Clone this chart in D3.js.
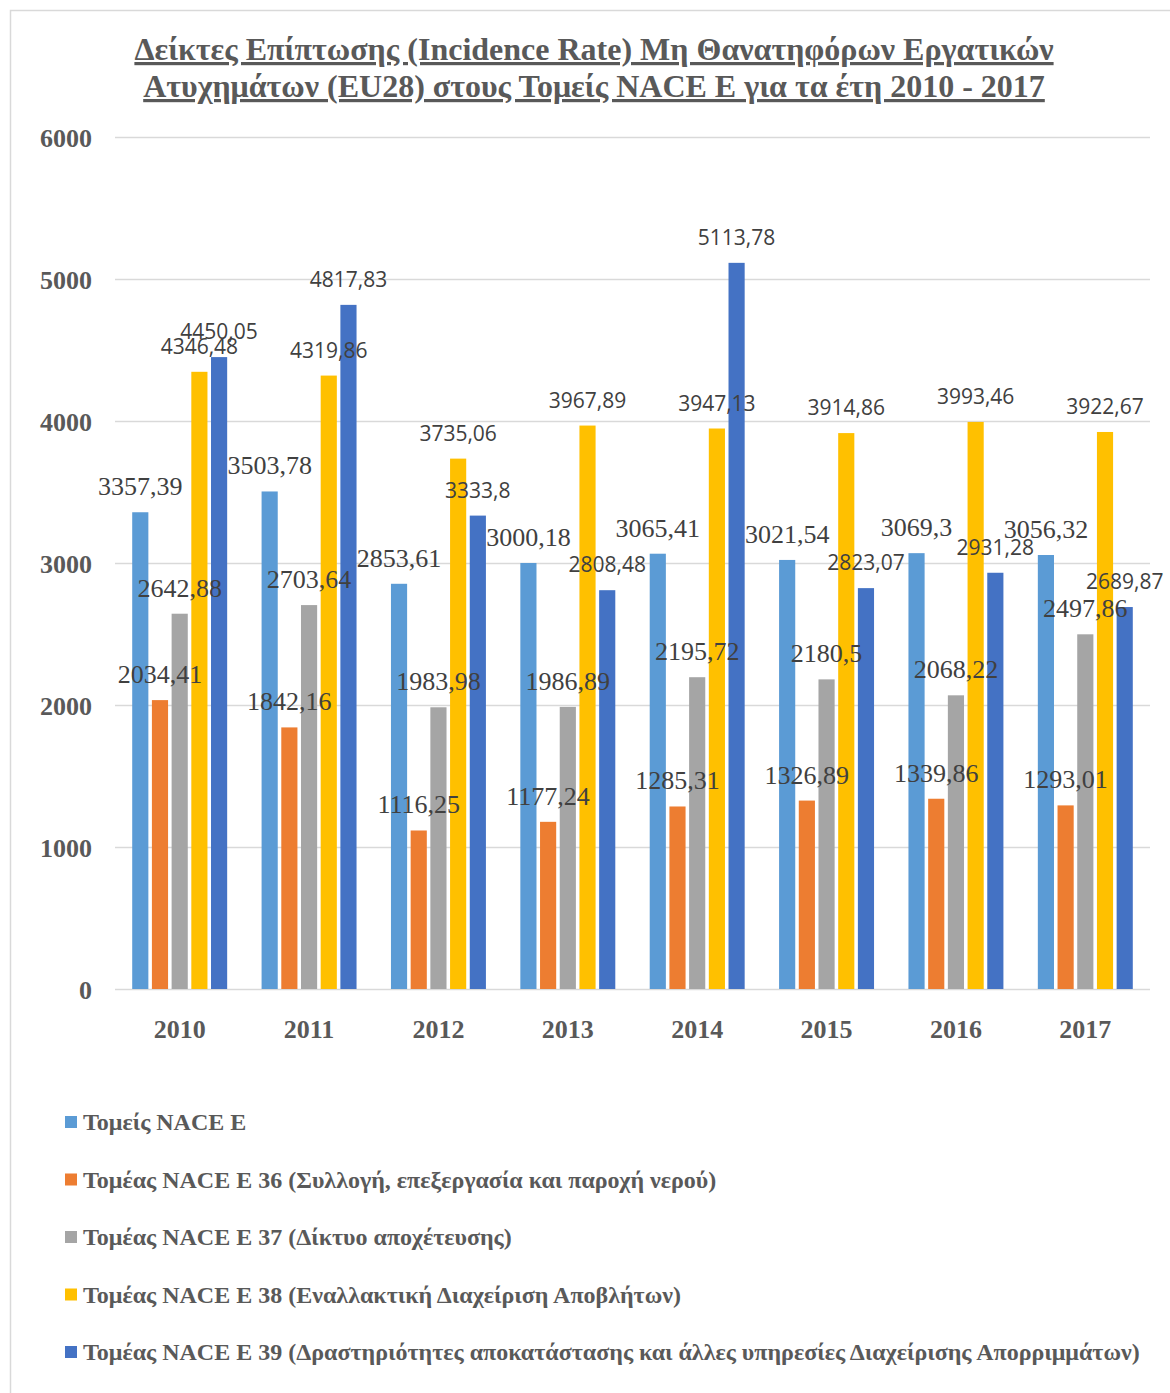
<!DOCTYPE html>
<html>
<head>
<meta charset="utf-8">
<script src="https://cdn.jsdelivr.net/npm/d3@7"></script>
<style>
  body { margin: 0; background: #fff; }
  svg { display: block; }
</style>
</head>
<body>
<svg id="chart"></svg>
<script>
const width = 1170
const height = 1393

const years = ['2010', '2011', '2012', '2013', '2014', '2015', '2016', '2017']
const seriesNames = [
  'Τομείς NACE E',
  'Τομέας NACE E 36 (Συλλογή, επεξεργασία και παροχή νερού)',
  'Τομέας NACE E 37 (Δίκτυο αποχέτευσης)',
  'Τομέας NACE E 38 (Εναλλακτική Διαχείριση Αποβλήτων)',
  'Τομέας NACE E 39 (Δραστηριότητες αποκατάστασης και άλλες υπηρεσίες Διαχείρισης Απορριμμάτων)'
]
const naceE = [3357.39, 3503.78, 2853.61, 3000.18, 3065.41, 3021.54, 3069.3, 3056.32]
const nace36 = [2034.41, 1842.16, 1116.25, 1177.24, 1285.31, 1326.89, 1339.86, 1293.01]
const nace37 = [2642.88, 2703.64, 1983.98, 1986.89, 2195.72, 2180.5, 2068.22, 2497.86]
const nace38 = [4346.48, 4319.86, 3735.06, 3967.89, 3947.13, 3914.86, 3993.46, 3922.67]
const nace39 = [4450.05, 4817.83, 3333.8, 2808.48, 5113.78, 2823.07, 2931.28, 2689.87]
const yTicks = [0, 1000, 2000, 3000, 4000, 5000, 6000]

const colors = ['#5B9BD5', '#ED7D31', '#A5A5A5', '#FFC000', '#4472C4']
const allSeries = [naceE, nace36, nace37, nace38, nace39]

const serif = '"Liberation Serif", "Times New Roman", serif'
const sans = '"Open Sans", "Liberation Sans", sans-serif'
const textGray = '#595959'

const svg = d3.select('#chart').attr('width', width).attr('height', height)

// chart frame
svg.append('rect')
  .attr('x', 10.5).attr('y', 10.5)
  .attr('width', width).attr('height', height)
  .attr('fill', '#fff')
  .attr('stroke', '#d9d9d9')
  .attr('stroke-width', 1.5)

// title
const title = svg.append('text')
  .attr('text-anchor', 'middle')
  .attr('font-family', serif)
  .attr('font-weight', 'bold')
  .attr('font-size', 32)
  .attr('fill', textGray)
  .attr('text-decoration', 'underline')
title.append('tspan').attr('x', 594).attr('y', 60)
  .text('Δείκτες Επίπτωσης (Incidence Rate) Μη Θανατηφόρων Εργατικών')
title.append('tspan').attr('x', 594).attr('y', 97)
  .text('Ατυχημάτων (EU28) στους Τομείς NACE E για τα έτη 2010 - 2017')

const plot = { left: 115, right: 1150, top: 137, bottom: 989 }

const x = d3.scaleBand()
  .domain(years)
  .range([plot.left, plot.right])
  .paddingInner(0.266)
  .paddingOuter(0.133)

const xSub = d3.scaleBand()
  .domain(d3.range(allSeries.length))
  .range([0, x.bandwidth()])
  .paddingInner(0.18)

const y = d3.scaleLinear()
  .domain([0, 6000])
  .range([plot.bottom, plot.top])

// gridlines
svg.append('g')
  .selectAll('line')
  .data(yTicks)
  .enter().append('line')
  .attr('x1', plot.left).attr('x2', plot.right)
  .attr('y1', d => y(d) + 0.5).attr('y2', d => y(d) + 0.5)
  .attr('stroke', '#d9d9d9')
  .attr('stroke-width', 1.5)

// y axis labels
const yAxis = svg.append('g')
  .attr('transform', `translate(${plot.left - 23},0)`)
  .call(d3.axisLeft(y).tickValues(yTicks).tickFormat(d3.format('d')).tickSize(0).tickPadding(0))
yAxis.select('.domain').remove()
yAxis.selectAll('text')
  .attr('font-family', serif)
  .attr('font-weight', 'bold')
  .attr('font-size', 26)
  .attr('fill', textGray)
  .attr('dy', '0.35em')

// x axis labels
const xAxis = svg.append('g')
  .attr('transform', `translate(0,${plot.bottom + 31})`)
  .call(d3.axisBottom(x).tickSize(0).tickPadding(0))
xAxis.select('.domain').remove()
xAxis.selectAll('text')
  .attr('font-family', serif)
  .attr('font-weight', 'bold')
  .attr('font-size', 26)
  .attr('fill', textGray)

const cellData = years.flatMap((yr, i) => allSeries.map((s, k) => ({ yr, k, v: s[i] })))
const cx = d => x(d.yr) + xSub(d.k) + xSub.bandwidth() / 2

// bars
svg.append('g')
  .selectAll('rect')
  .data(cellData)
  .enter().append('rect')
  .attr('x', d => x(d.yr) + xSub(d.k))
  .attr('width', xSub.bandwidth())
  .attr('y', d => y(d.v))
  .attr('height', d => plot.bottom - y(d.v))
  .attr('fill', d => colors[d.k])

// data labels: first three series use serif, last two sans
svg.append('g')
  .selectAll('text')
  .data(cellData)
  .enter().append('text')
  .attr('x', cx)
  .attr('y', d => y(d.v) - (d.k < 3 ? 17 : 18))
  .attr('text-anchor', 'middle')
  .attr('font-family', d => d.k < 3 ? serif : sans)
  .attr('font-size', d => d.k < 3 ? 26 : 21)
  .attr('fill', '#404040')
  .text(d => String(d.v).replace('.', ','))

// legend
const legend = svg.append('g')
  .selectAll('g')
  .data(seriesNames)
  .enter().append('g')
  .attr('transform', (d, i) => `translate(65,${1122 + i * 57.5})`)

legend.append('rect')
  .attr('x', 0).attr('y', -6)
  .attr('width', 12).attr('height', 12)
  .attr('fill', (d, i) => colors[i])

legend.append('text')
  .attr('x', 18)
  .attr('dy', '0.35em')
  .attr('font-family', serif)
  .attr('font-weight', 'bold')
  .attr('font-size', 24)
  .attr('fill', textGray)
  .text(d => d)
</script>
</body>
</html>
